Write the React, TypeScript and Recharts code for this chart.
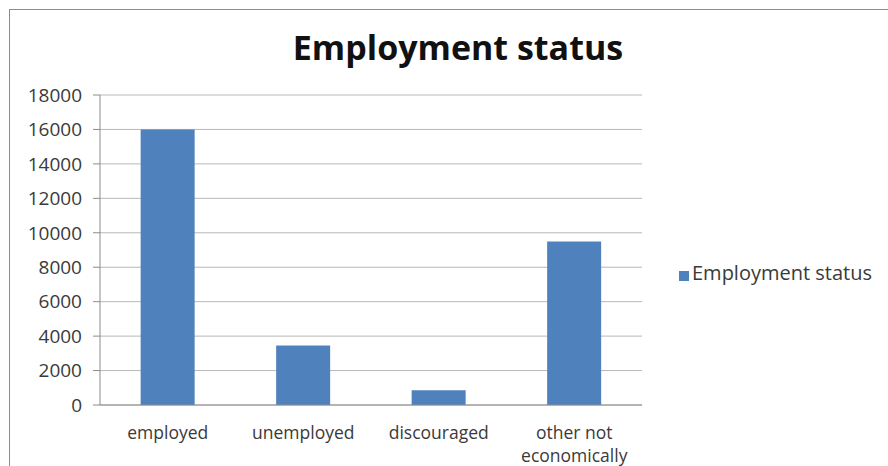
import { BarChart, Bar, XAxis, YAxis, CartesianGrid, Legend, Text } from "recharts";

const categories = ["employed", "unemployed", "discouraged", "other not economically"];
const employmentValues = [16000, 3450, 850, 9500];
const yTicks = [0, 2000, 4000, 6000, 8000, 10000, 12000, 14000, 16000, 18000];
const boundaryTicks = [0, 1, 2, 3, 4];

const data = categories.map((name, i) => ({ name, pos: i + 0.5, value: employmentValues[i] }));

const FONT = "'Open Sans', sans-serif";
const TEXT_COLOR = "#3a3a3a";
const BAR_COLOR = "#4F81BD";
const LEGEND_W = 220;

function CategoryTick(props: any) {
  const { x, y, payload } = props;
  return (
    <Text
      x={x}
      y={y + 14}
      width={120}
      textAnchor="middle"
      verticalAnchor="start"
      fontSize={17.5}
      fill={TEXT_COLOR}
      fontFamily={FONT}
      lineHeight={23}
    >
      {payload.value}
    </Text>
  );
}

export default function App() {
  return (
    <div style={{ position: "absolute", left: 0, top: 0, width: 888, height: 466, background: "#fff", overflow: "hidden" }}>
      {/* chart frame, cropped at right and bottom */}
      <div style={{ position: "absolute", left: 9, top: 9, width: 900, height: 480, border: "1.5px solid #8c8c8c" }} />
      <div
        style={{
          position: "absolute",
          left: 0,
          width: 916,
          top: 24,
          textAlign: "center",
          fontFamily: FONT,
          fontWeight: 700,
          fontSize: 34,
          color: "#111",
        }}
      >
        Employment status
      </div>
      <div style={{ position: "absolute", left: 0, top: 0 }}>
        <BarChart
          width={888}
          height={466}
          data={data}
          margin={{ top: 95, right: 246 - LEGEND_W, left: 0, bottom: 11 }}
          barCategoryGap="30%"
        >
          <CartesianGrid vertical={false} stroke="#b8b8b8" />
          <XAxis
            dataKey="name"
            height={50}
            interval={0}
            axisLine={{ stroke: "#8c8c8c" }}
            tickLine={false}
            tick={<CategoryTick />}
          />
          <XAxis
            xAxisId="bounds"
            type="number"
            dataKey="pos"
            domain={[0, 4]}
            ticks={boundaryTicks}
            height={0}
            axisLine={false}
            tickSize={6}
            tick={false}
            tickLine={{ stroke: "#8c8c8c" }}
          />
          <YAxis
            width={100}
            domain={[0, 18000]}
            ticks={yTicks}
            interval={0}
            axisLine={{ stroke: "#8c8c8c" }}
            tickLine={{ stroke: "#8c8c8c" }}
            tickSize={7}
            tickMargin={11}
            tick={{ fontSize: 19, fill: TEXT_COLOR, fontFamily: FONT }}
          />
          <Legend
            layout="vertical"
            align="right"
            verticalAlign="top"
            iconType="square"
            iconSize={10}
            wrapperStyle={{ position: "absolute", left: 679, top: 259, width: LEGEND_W }}
            formatter={(v) => (
              <span style={{ color: TEXT_COLOR, fontFamily: FONT, fontSize: 20, marginLeft: -1 }}>{v}</span>
            )}
          />
          <Bar
            dataKey="value"
            name="Employment status"
            fill={BAR_COLOR}
            isAnimationActive={false}
          />
        </BarChart>
      </div>
    </div>
  );
}
